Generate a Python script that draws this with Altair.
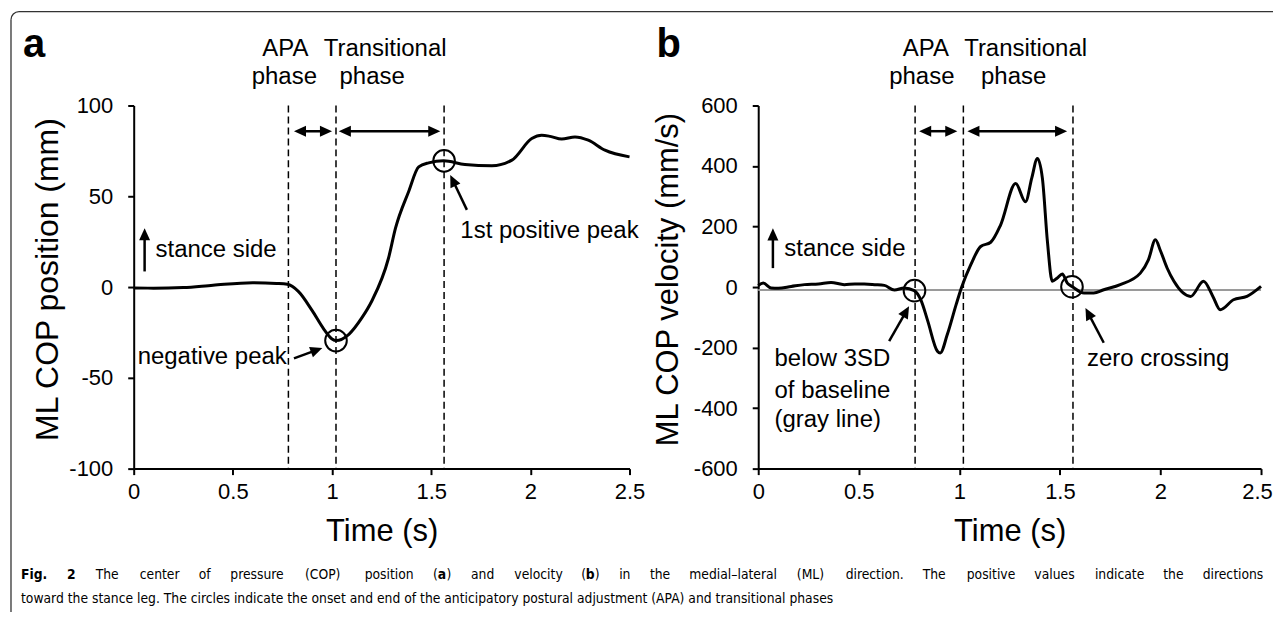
import math
import altair as alt
import pandas as pd

FONT = "Liberation Sans"
CAP_FONT = "DejaVu Sans Condensed"

# ---------------- data ----------------
x_ticks = [0, 0.5, 1, 1.5, 2, 2.5]
pos_ticks = [-100, -50, 0, 50, 100]
vel_ticks = [-600, -400, -200, 0, 200, 400, 600]

# (a) ML COP position (mm)
pos_time = [0.0, 0.1, 0.25, 0.4, 0.6, 0.72, 0.775, 0.83, 0.9, 0.96, 1.0, 1.02, 1.085,
            1.15, 1.2, 1.285, 1.32, 1.386, 1.437, 1.487, 1.563, 1.67, 1.806, 1.907,
            2.007, 2.057, 2.1, 2.158, 2.225, 2.292, 2.376, 2.5]
pos_mm = [-0.5, -0.6, -0.3, 1.0, 2.4, 2.0, 1.5, -2.4, -13.0, -23.4, -28.6, -29.5, -26.0,
          -17.0, -7.8, 16.0, 32.4, 52.5, 66.2, 68.4, 69.5, 67.5, 66.8, 69.9,
          81.8, 83.6, 83.0, 81.5, 82.7, 80.9, 75.4, 71.7]

# (b) ML COP velocity (mm/s)
vel_time = [0.0, 0.025, 0.064, 0.1, 0.164, 0.23, 0.3, 0.362, 0.428, 0.48, 0.527, 0.58,
            0.627, 0.677, 0.726, 0.776, 0.81, 0.842, 0.891, 0.905, 0.94, 0.984, 1.01,
            1.057, 1.106, 1.156, 1.205, 1.28, 1.329, 1.36, 1.388, 1.413, 1.438, 1.462,
            1.487, 1.512, 1.537, 1.56, 1.62, 1.668, 1.718, 1.8, 1.9, 1.94, 1.975, 2.0,
            2.033, 2.067, 2.15, 2.214, 2.26, 2.297, 2.363, 2.43, 2.5]
vel_mms = [5, 13, -3, -4, 2, 8, 10, 15, 8, 10, 10, 8,
           5.6, -10, -3, -12, -45, -110, -212, -218, -157, -58, -3,
           74, 134, 148, 205, 342, 282, 360, 425, 359, 150, 19,
           30, 43, 13, 2, -20, -20, -9, 8, 46, 90, 156, 120,
           63, 19, -31, 19, -30, -75, -42, -31, 2]

event_time = [0.78, 1.02, 1.565]
baseline_vel = [-10]

pos_circle_t = [1.02, 1.565]
pos_circle_v = [-29.5, 69.5]
vel_circle_t = [0.777, 1.56]
vel_circle_v = [-12, 1]

# annotation texts (data coordinates)
pos_note_text = ["stance side", "1st positive peak", "negative peak"]
pos_note_t = [0.11, 1.647, 0.02]
pos_note_v = [16.8, 27.2, -42.4]
vel_note_text = ["stance side", "below 3SD", "of baseline", "(gray line)", "zero crossing"]
vel_note_t = [0.13, 0.081, 0.081, 0.081, 1.635]
vel_note_v = [101, -261, -365.5, -464, -261]

# arrows: (t1, v1, t2 tip, v2 tip, double-headed)
pos_arrows = [(0.055, 8.6, 0.055, 32.4, False), (1.68, 42.5, 1.596, 61.7, False),
              (0.808, -39.3, 0.951, -33.5, False), (0.808, 85.8, 1.0, 85.8, True),
              (1.034, 85.8, 1.546, 85.8, True)]
vel_arrows = [(0.073, 62.6, 0.073, 194, False), (0.651, -179, 0.75, -63.5, False),
              (1.718, -184, 1.627, -69, False), (0.80, 515, 0.99, 515, True),
              (1.04, 515, 1.536, 515, True)]

caption_line1 = ("Fig. 2 The center of pressure (COP) position (a) and velocity (b) in the "
                 "medial\u2013lateral (ML) direction. The positive values indicate the directions")
caption_line2 = ("toward the stance leg. The circles indicate the onset and end of the anticipatory "
                 "postural adjustment (APA) and transitional phases")

# ---------------- geometry ----------------
W_A, W_B, H = 497, 504, 364
ORIG_A = (131, 103)
ORIG_B = (757, 103)
ARROW = "M0,0L-1.1,-0.5L-1.1,0.5Z"

# Arial advance widths (1/1000 em), scaled to the caption font
AW = {" ": 278, "(": 333, ")": 333, ".": 278, ",": 278, "\u2013": 556, "-": 333}
for c in "0123456789":
    AW[c] = 556
AW.update(dict(zip("ABCDEFGHIJKLMNOPQRSTUVWXYZ",
                   [667, 667, 722, 722, 667, 611, 778, 722, 278, 500, 667, 556, 833, 722,
                    778, 667, 778, 722, 667, 611, 722, 667, 944, 667, 667, 611])))
AW.update(dict(zip("abcdefghijklmnopqrstuvwxyz",
                   [556, 556, 500, 556, 556, 278, 556, 556, 222, 222, 500, 222, 833, 556,
                    556, 556, 556, 333, 500, 278, 556, 500, 722, 500, 500, 500])))
FONT_F = 1.0245
BOLD_F = 1.12
CAP_FS = 13.8


def txt_w(s, fs, bold=False):
    return sum(AW.get(c, 556) for c in s) / 1000.0 * fs * FONT_F * (BOLD_F if bold else 1.0)


def caption_frames():
    reg, bold = [], []
    words = caption_line1.split(" ")
    segs = []
    for w in words:
        if w in ("Fig.", "2"):
            segs.append([(w, True)])
        elif w in ("(a)", "(b)"):
            segs.append([("(", False), (w[1], True), (")", False)])
        else:
            segs.append([(w, False)])
    widths = [sum(txt_w(s, CAP_FS, b) for s, b in sg) for sg in segs]
    x0, x1 = 18.0, 1263.0
    gap = (x1 - x0 - sum(widths)) / (len(segs) - 1)
    x = x0
    y1 = 578 - ORIG_A[1]
    for sg, wd in zip(segs, widths):
        xx = x
        for s, b in sg:
            row = dict(px=xx - ORIG_A[0], py=y1, s=s)
            (bold if b else reg).append(row)
            xx += txt_w(s, CAP_FS, b)
        x += wd + gap
    reg.append(dict(px=18 - ORIG_A[0], py=602 - ORIG_A[1], s=caption_line2))
    return pd.DataFrame(reg), pd.DataFrame(bold)


def arrow_frames(arrows, sx, sy, cut=7.0):
    shafts, heads = [], []
    for t1, v1, t2, v2, both in arrows:
        dxp = (t2 - t1) * sx
        dyp = (v2 - v1) * sy
        L = math.hypot(dxp, dyp)
        ux, uy = dxp / L, dyp / L
        e2t, e2v = t2 - ux * cut / sx, v2 - uy * cut / sy
        e1t, e1v = t1, v1
        if both:
            e1t, e1v = t1 + ux * cut / sx, v1 + uy * cut / sy
        shafts.append(dict(t=e1t, v=e1v, t2=e2t, v2=e2v))
        ang = math.degrees(math.atan2(-dyp, dxp)) % 360
        heads.append(dict(t=t2, v=v2, ang=ang))
        if both:
            heads.append(dict(t=t1, v=v1, ang=(ang + 180) % 360))
    return pd.DataFrame(shafts), pd.DataFrame(heads)


def px_text(rows, size, weight="normal", align="left", font=FONT):
    return alt.Chart(pd.DataFrame(rows)).mark_text(
        font=font, fontSize=size, fontWeight=weight, align=align,
        baseline="alphabetic", color="black"
    ).encode(
        x=alt.X("px:Q", scale=None, axis=None),
        y=alt.Y("py:Q", scale=None, axis=None),
        text="s:N",
    )


def panel(width, t, v, ydom, yticks, ytitle, ytitle_x, ytitle_fs, circ_t, circ_v,
          notes, arrows, extra_layers, origin, letter, phase_pos, gray=None,
          last_label_shift=0):
    sx = width / 2.5
    sy = H / (ydom[1] - ydom[0])
    xs = alt.Scale(domain=[0, 2.5], nice=False, zero=False)
    ys = alt.Scale(domain=ydom, nice=False, zero=False)
    x_kw = {}
    if last_label_shift:
        x_kw["labelOffset"] = {"condition": {"test": "datum.value == 2.5",
                                             "value": last_label_shift}, "value": 0}
    xax = alt.Axis(values=x_ticks, labelExpr="'' + datum.value", title="Time (s)",
                   titleX=width / 2, titleY=72, titleAlign="center",
                   titleBaseline="alphabetic", labelFlush=False, **x_kw)
    yax = alt.Axis(values=yticks, labelExpr="'' + datum.value", title=ytitle,
                   titleAngle=270, titleX=ytitle_x, titleY=H / 2 - 8, titleAlign="center",
                   titleBaseline="middle", titleFontSize=ytitle_fs, labelFlush=False)

    layers = []
    curve = alt.Chart(pd.DataFrame({"t": t, "v": v})).mark_line(
        color="black", strokeWidth=3, interpolate="monotone"
    ).encode(x=alt.X("t:Q", scale=xs, axis=xax), y=alt.Y("v:Q", scale=ys, axis=yax))

    layers.append(alt.Chart(pd.DataFrame({"t": event_time})).mark_rule(
        color="black", strokeWidth=1.5, strokeDash=[7, 4]).encode(x="t:Q"))
    if gray is not None:
        layers.append(alt.Chart(pd.DataFrame({"v": gray})).mark_rule(
            color="#9a9a9a", strokeWidth=2).encode(y="v:Q"))
    layers.append(curve)
    layers.append(alt.Chart(pd.DataFrame({"t": circ_t, "v": circ_v})).mark_point(
        shape="circle", filled=False, color="black", size=470, strokeWidth=2,
        opacity=1).encode(x="t:Q", y="v:Q"))
    shafts, heads = arrow_frames(arrows, sx, sy)
    layers.append(alt.Chart(shafts).mark_rule(color="black", strokeWidth=2.5).encode(
        x="t:Q", x2="t2:Q", y="v:Q", y2="v2:Q"))
    layers.append(alt.Chart(heads).mark_point(
        shape=ARROW, filled=True, color="black", size=484, opacity=1, strokeWidth=0
    ).encode(x="t:Q", y="v:Q", angle=alt.Angle("ang:Q", scale=None)))
    layers.append(alt.Chart(pd.DataFrame(notes)).mark_text(
        font=FONT, fontSize=24, align="left", baseline="alphabetic", color="black"
    ).encode(x="t:Q", y="v:Q", text="s:N"))
    ox, oy = origin
    layers.append(px_text([dict(px=letter[1] - ox, py=letter[2] - oy, s=letter[0])],
                          40, weight="bold"))
    layers.append(px_text([dict(px=p[1] - ox, py=p[2] - oy, s=p[0]) for p in phase_pos],
                          24, align="center"))
    layers += extra_layers
    return alt.layer(*layers).properties(width=width, height=H)


# frame and caption (drawn in panel a's coordinate system)
ox, oy = ORIG_A
frame_top = alt.Chart(pd.DataFrame({"k": [0]})).mark_rule(
    color="#333333", strokeWidth=1.3).encode(
    x=alt.value(16 - ox), x2=alt.value(1281 - ox), y=alt.value(9 - oy))
frame_left = alt.Chart(pd.DataFrame({"k": [0]})).mark_rule(
    color="#333333", strokeWidth=1.3).encode(
    x=alt.value(8 - ox), y=alt.value(17 - oy), y2=alt.value(618 - oy))
frame_corner = alt.Chart(pd.DataFrame({"k": [0]})).mark_arc(
    filled=False, stroke="#333333", strokeWidth=1.3, radius=8, radius2=8).encode(
    x=alt.value(16 - ox), y=alt.value(17 - oy),
    theta=alt.value(1.5 * math.pi), theta2=alt.value(2 * math.pi))
cap_reg, cap_bold = caption_frames()
cap_layers = [
    frame_top, frame_left, frame_corner,
    px_text(cap_reg.to_dict("records"), CAP_FS, font=CAP_FONT),
    px_text(cap_bold.to_dict("records"), CAP_FS, weight="bold", font=CAP_FONT),
]

notes_a = [dict(s=s, t=t, v=v) for s, t, v in zip(pos_note_text, pos_note_t, pos_note_v)]
notes_b = [dict(s=s, t=t, v=v) for s, t, v in zip(vel_note_text, vel_note_t, vel_note_v)]

panel_a = panel(W_A, pos_time, pos_mm, [-100, 100], pos_ticks, "ML COP position (mm)",
                -86.4, 32, pos_circle_t, pos_circle_v, notes_a, pos_arrows, cap_layers,
                ORIG_A, ("a", 20, 54),
                [("APA", 283, 53), ("phase", 282, 81), ("Transitional", 383, 53),
                 ("phase", 370, 81)])
panel_b = panel(W_B, vel_time, vel_mms, [-600, 600], vel_ticks, "ML COP velocity (mm/s)",
                -90.4, 31, vel_circle_t, vel_circle_v, notes_b, vel_arrows, [],
                ORIG_B, ("b", 655, 54),
                [("APA", 925, 53), ("phase", 921, 81), ("Transitional", 1025, 53),
                 ("phase", 1013, 81)], gray=baseline_vel, last_label_shift=-4)

chart = alt.hconcat(panel_a, panel_b, spacing=129, bounds="flush").properties(
    padding={"left": 0, "top": 0, "right": -9, "bottom": -9}
).configure_view(strokeWidth=0).configure_axis(
    domainColor="black", domainWidth=2, tickColor="black", tickWidth=2, tickSize=6,
    labelFont=FONT, labelFontSize=22, labelColor="black", titleFont=FONT,
    titleFontSize=31, titleFontWeight="normal", titleColor="black", grid=False,
    labelOverlap=False
).configure_axisX(labelPadding=7).configure_axisY(labelPadding=15)

chart.save("out.html", embed_options={"renderer": "svg", "actions": False})
